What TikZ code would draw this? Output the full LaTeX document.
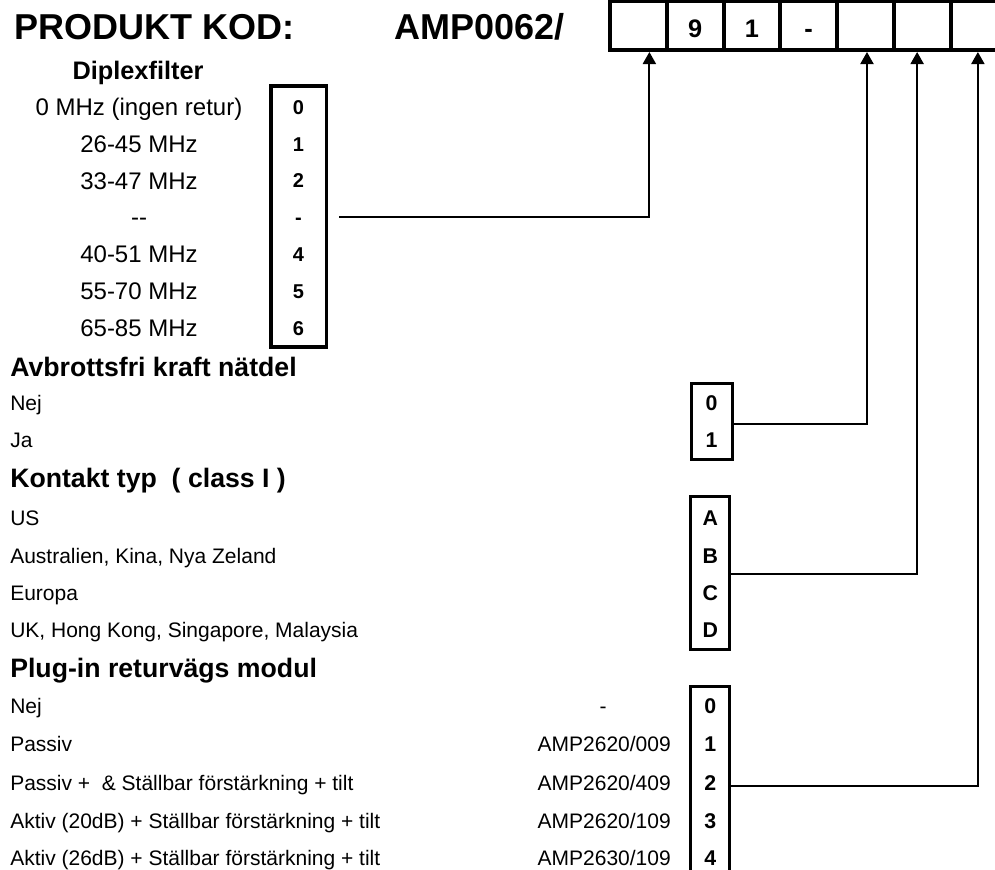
\documentclass[tikz,border=0pt]{standalone}
\usepackage{fontspec}
\setmainfont{Liberation Sans}
\usetikzlibrary{arrows.meta,calc}
\begin{document}
\begin{tikzpicture}[x=0.75pt,y=-0.75pt,
  title/.style={anchor=base west,inner sep=0pt,font=\bfseries\fontsize{27}{30}\selectfont},
  head/.style={anchor=base west,inner sep=0pt,font=\bfseries\fontsize{20}{24}\selectfont},
  lbl/.style={anchor=base west,inner sep=0pt,font=\fontsize{15.75}{18}\selectfont},
  code/.style={anchor=base east,inner sep=0pt,font=\fontsize{15.75}{18}\selectfont},
  dlbl/.style={anchor=base,inner sep=0pt,font=\fontsize{18}{21}\selectfont},
  ddig/.style={anchor=base,inner sep=0pt,font=\bfseries\fontsize{15}{17}\selectfont},
  rdig/.style={anchor=base,inner sep=0pt,font=\bfseries\fontsize{16}{18}\selectfont},
  cdig/.style={anchor=base,inner sep=0pt,font=\bfseries\fontsize{19}{22}\selectfont},
  cell/.style={draw,line width=3pt,inner sep=0pt,minimum width=42.56pt,minimum height=36.75pt},
  rbox/.style={draw,line width=2.25pt,inner sep=0pt},
  arr/.style={line width=1.5pt,-{Triangle[width=9.75pt,length=9pt]}}
]
\useasboundingbox (0,0) rectangle (995,869);
\clip (0,0) rectangle (995,869);

% title
\node[title] (t1) at (14,39) {PRODUKT KOD:};
\node[title] (t2) at (394,39) {AMP0062/};

% code cells
\foreach \i in {1,...,7}{
  \pgfmathsetmacro{\cx}{610+56.75*(\i-0.5)}
  \node[cell] (cell\i) at (\cx,25.5) {};
}
\node[cdig] (c2t) at ($(cell2.center)+(0,11.5)$) {9};
\node[cdig] (c3t) at ($(cell3.center)+(0,11.5)$) {1};
\node[cdig] (c4t) at ($(cell4.center)+(0,11.5)$) {-};

% Diplexfilter
\node[anchor=base,inner sep=0pt,font=\bfseries\fontsize{19}{22}\selectfont] (dh) at (138,79) {Diplexfilter};
\node[draw,line width=2.6pt,inner sep=0pt,minimum width=41.6pt,minimum height=195.75pt] (dipbox) at (298.75,216.5) {};
\foreach \n/\y/\l/\d in {0/107/{0 MHz (ingen retur)}/0,1/144/{26-45 MHz}/1,2/180.5/{33-47 MHz}/2,3/217/{-{}-}/-,4/254/{40-51 MHz}/4,5/291/{55-70 MHz}/5,6/328/{65-85 MHz}/6}{
  \node[dlbl] (dl\n) at (139,\y+8.6) {\l};
  \node[ddig] (dd\n) at (298.5,\y+7.1) {\d};
}

% Avbrottsfri kraft natdel
\node[head] (h1) at (10,376.5) {Avbrottsfri kraft nätdel};
\node[lbl] (a0) at (10,410.5) {Nej};
\node[lbl] (a1) at (10,447.5) {Ja};
\node[rbox,minimum width=30.75pt,minimum height=57pt] (box1) at (711.5,421) {};
\node[rdig] (b10) at (711.5,403+7.6) {0};
\node[rdig] (b11) at (711.5,440+7.6) {1};

% Kontakt typ
\node[head] (h2) at (10,487.5) {Kontakt typ\ \ ( class I )};
\node[lbl] (k0) at (10,525.5) {US};
\node[lbl] (k1) at (10,563.5) {Australien, Kina, Nya Zeland};
\node[lbl] (k2) at (10,600.5) {Europa};
\node[lbl] (k3) at (10,637.5) {UK, Hong Kong, Singapore, Malaysia};
\node[rbox,minimum width=28.9pt,minimum height=114.75pt] (box2) at (710.25,572.5) {};
\node[rdig] (b20) at (710.25,518+7.6) {A};
\node[rdig] (b21) at (710.25,556+7.6) {B};
\node[rdig] (b22) at (710.25,593+7.6) {C};
\node[rdig] (b23) at (710.25,630+7.6) {D};

% Plug-in returvags modul
\node[head] (h3) at (10,677.5) {Plug-in returvägs modul};
\node[lbl] (p0) at (10,713.5) {Nej};
\node[lbl] (p1) at (10,751.5) {Passiv};
\node[lbl] (p2) at (10,790.5) {Passiv +\ \ \& Ställbar förstärkning + tilt};
\node[lbl] (p3) at (10,828.5) {Aktiv (20dB) + Ställbar förstärkning + tilt};
\node[lbl] (p4) at (10,865.5) {Aktiv (26dB) + Ställbar förstärkning + tilt};
\node[anchor=base,inner sep=0pt,font=\fontsize{15.75}{18}\selectfont] (m0) at (603,713.5) {-};
\node[code] (m1) at (671,751.5) {AMP2620/009};
\node[code] (m2) at (671,790.5) {AMP2620/409};
\node[code] (m3) at (671,828.5) {AMP2620/109};
\node[code] (m4) at (671,865.5) {AMP2630/109};
\node[rbox,minimum width=28.9pt,minimum height=150pt] (box3) at (710.25,786) {};
\node[rdig] (b30) at (710.25,706+7.6) {0};
\node[rdig] (b31) at (710.25,744+7.6) {1};
\node[rdig] (b32) at (710.25,783+7.6) {2};
\node[rdig] (b33) at (710.25,821+7.6) {3};
\node[rdig] (b34) at (710.25,858+7.6) {4};

% connectors
\draw[arr] ($(dipbox.east)+(11,0)$) -| ($(cell1.south)+(11,0)$);
\draw[arr] ($(box1.east)+(0,3)$) -| ($(cell5.south)+(1.6,0)$);
\draw[arr] ($(box2.east)+(0,1.5)$) -| ($(cell6.south)+(-5,0)$);
\draw[arr] (box3.east) -| ($(cell7.south)+(-1,0)$);
\end{tikzpicture}
\end{document}
